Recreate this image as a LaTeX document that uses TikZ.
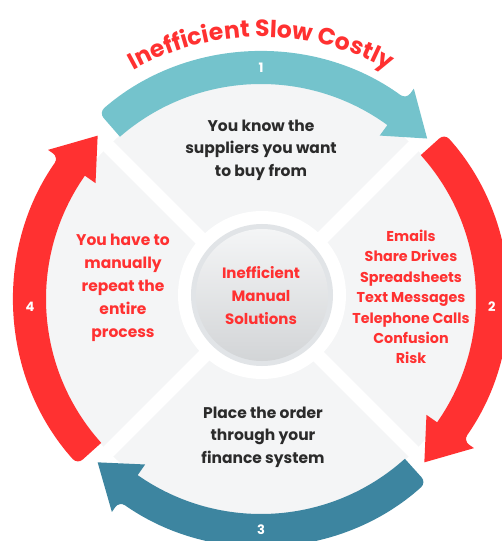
\documentclass[tikz,border=0pt]{standalone}
\usepackage{fontspec}
\setmainfont{Poppins}
\usetikzlibrary{decorations.text}

\definecolor{tealarc}{HTML}{74C3CC}
\definecolor{bluearc}{HTML}{3D85A0}
\definecolor{redarc}{HTML}{FF3131}
\definecolor{diskgray}{HTML}{F4F5F6}
\definecolor{hubedge}{HTML}{E1E4E7}
\definecolor{inkdark}{HTML}{2B2B2B}

\tikzset{
  steptext/.style={align=center, text=inkdark, font=\bfseries\fontsize{15.5}{22.5}\selectfont},
  redtext/.style={steptext, text=redarc},
  stepnum/.style={text=white, font=\bfseries\fontsize{13}{13}\selectfont},
}

\newcommand{\rin}{215}
\newcommand{\rmid}{231}
\newcommand{\rout}{247}

\begin{document}
\begin{tikzpicture}[x=1pt,y=1pt]
  \useasboundingbox (-261,-242) rectangle (240,299);

  % disk and the four sectors
  \fill[diskgray] (0,0) circle[radius=216];
  \draw[white, line width=14pt] (45:220) -- (225:220);
  \draw[white, line width=14pt] (135:220) -- (-45:220);

  % hub
  \fill[white] (1,4) circle[radius=84];
  \fill[hubedge] (1,4) circle[radius=71];
  \shade[top color=diskgray, bottom color=hubedge!80!gray!90] (1,4) circle[radius=66];

  % the four arrows
  \foreach \a/\col/\n/\ang in {131/tealarc/1/90, 42/redarc/2/-2, -48/bluearc/3/-90, -138/redarc/4/182} {
    \fill[\col, rounded corners=7pt]
      (\a:\rmid) -- (\a:\rout)
      arc[start angle=\a, end angle=\a-77, radius=\rout]
      [sharp corners] -- ({\a-77}:{\rout+13}) -- ({\a-87}:\rmid) -- ({\a-77}:{\rin-13})
      -- ({\a-77}:\rin)
      arc[start angle=\a-77, end angle=\a, radius=\rin]
      [rounded corners=7pt] -- cycle;
    \node[stepnum] (num\n) at (\ang:\rmid) {\n};
  }

  % title
  \path[decorate, decoration={text along path, text color=redarc, text align=center,
      text={|\bfseries\fontsize{23.5}{24}\selectfont|Inefficient Slow Costly}}]
    (150:262) arc[start angle=150, end angle=30, radius=262];

  % texts
  \node[steptext] (suppliers) at (0,149) {You know the\\suppliers you want\\to buy from};
  \node[redtext, font=\bfseries\fontsize{14.3}{20.4}\selectfont] (channels) at (150,2)
    {Emails\\Share Drives\\Spreadsheets\\Text Messages\\Telephone Calls\\Confusion\\Risk};
  \node[steptext] (order) at (2,-138) {Place the order\\through your\\finance system};
  \node[redtext, font=\bfseries\fontsize{15.5}{23}\selectfont] (repeat) at (-138,11)
    {You have to\\manually\\repeat the\\entire\\process};
  \node[redtext, font=\bfseries\fontsize{15}{23}\selectfont] (hub) at (0,3)
    {Inefficient\\Manual\\Solutions};
\end{tikzpicture}
\end{document}
